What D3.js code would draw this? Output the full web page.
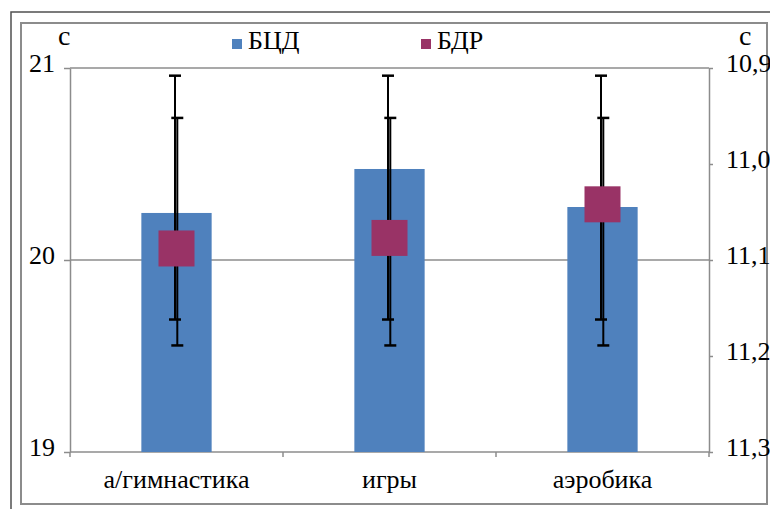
<!DOCTYPE html>
<html>
<head>
<meta charset="utf-8">
<script src="https://cdn.jsdelivr.net/npm/d3@7"></script>
<style>
  body { margin: 0; background: #fff; }
</style>
</head>
<body>
<div class="chart"></div>
<script>
// chart values
const categories = ["а/гимнастика", "игры", "аэробика"];
const seriesNames = ["БЦД", "БДР"];
const bcdValues = [20.245, 20.474, 20.276];   // left axis, bars
const bdrValues = [11.088, 11.077, 11.042];   // right axis, squares
const bcdErrLow = [19.69, 19.69, 19.69];
const bcdErrHigh = [20.96, 20.96, 20.96];
const bdrErrLow = [10.952, 10.952, 10.952];   // right axis is reversed
const bdrErrHigh = [11.189, 11.189, 11.189];
const leftTicks = [19, 20, 21];
const rightTicks = [10.9, 11.0, 11.1, 11.2, 11.3];

(function() {

  let svgContainer = "";
  const FONT = "Liberation Serif, DejaVu Serif, serif";

  window.onload = function() {
    svgContainer = d3.select('.chart').append('svg')
      .attr('width', 770)
      .attr('height', 509);

    // frames
    svgContainer.append('rect')
      .attr('x', 11).attr('y', 12)
      .attr('width', 770).attr('height', 520)
      .attr('fill', 'none')
      .attr('stroke', '#505050')
      .attr('stroke-width', 1.5);
    svgContainer.append('rect')
      .attr('x', 21).attr('y', 23)
      .attr('width', 746).attr('height', 481)
      .attr('fill', 'none')
      .attr('stroke', '#8c8c8c')
      .attr('stroke-width', 2);

    makeChart();

    svgContainer.selectAll('text')
      .attr('font-family', FONT)
      .style('font-family', FONT)
      .style('fill', '#000');
  }

  function makeChart() {
    let left = 70, right = 709, top = 68, bottom = 452;

    let xScale = d3.scaleBand()
      .domain(categories)
      .range([left, right])
      .paddingInner(0.67)
      .paddingOuter(0.335);

    let yLeft = d3.scaleLinear().domain([19, 21]).range([bottom, top]);
    let yRight = d3.scaleLinear().domain([10.9, 11.3]).range([top, bottom]);

    // gridlines
    svgContainer.selectAll('.grid')
      .data(leftTicks.filter((d) => d > 19))
      .enter()
      .append('line')
        .attr('x1', left)
        .attr('x2', right)
        .attr('y1', (d) => yLeft(d))
        .attr('y2', (d) => yLeft(d))
        .attr('stroke', '#8c8c8c')
        .attr('stroke-width', 1.5);

    // left axis
    let yAxisLeft = d3.axisLeft(yLeft)
      .tickValues(leftTicks)
      .tickFormat(d3.format('d'))
      .tickSize(6)
      .tickSizeOuter(0)
      .tickPadding(9);
    let gl = svgContainer.append('g')
      .attr('transform', 'translate(' + left + ',0)')
      .call(yAxisLeft);
    styleAxis(gl);

    // right axis
    let yAxisRight = d3.axisRight(yRight)
      .tickValues(rightTicks)
      .tickFormat((d) => d.toFixed(1).replace('.', ','))
      .tickSize(4)
      .tickSizeOuter(0)
      .tickPadding(13);
    let gr = svgContainer.append('g')
      .attr('transform', 'translate(' + right + ',0)')
      .call(yAxisRight);
    styleAxis(gr);

    // bottom axis line, ticks at category boundaries, labels
    svgContainer.append('line')
      .attr('x1', left).attr('x2', right)
      .attr('y1', bottom).attr('y2', bottom)
      .attr('stroke', '#8c8c8c')
      .attr('stroke-width', 1.5);
    let step = xScale.step();
    let bounds = d3.range(categories.length + 1).map((i) => left + i * step);
    svgContainer.selectAll('.xtick')
      .data(bounds)
      .enter()
      .append('line')
        .attr('x1', (d) => d).attr('x2', (d) => d)
        .attr('y1', bottom).attr('y2', bottom + 5)
        .attr('stroke', '#8c8c8c')
        .attr('stroke-width', 1.5);
    svgContainer.selectAll('.xlabel')
      .data(categories)
      .enter()
      .append('text')
        .attr('x', (d) => xScale(d) + xScale.bandwidth() / 2)
        .attr('y', 488)
        .attr('text-anchor', 'middle')
        .style('font-size', '26px')
        .text((d) => d);

    // bars
    svgContainer.selectAll('.bar')
      .data(bcdValues)
      .enter()
      .append('rect')
        .attr('x', (d, i) => xScale(categories[i]))
        .attr('y', (d) => yLeft(d))
        .attr('width', xScale.bandwidth())
        .attr('height', (d) => bottom - yLeft(d))
        .attr('fill', '#4f81bd');

    // error bars
    drawErrors(bcdErrLow, bcdErrHigh, yLeft, xScale, -1.5);
    drawErrors(bdrErrLow, bdrErrHigh, yRight, xScale, 0.8);

    // squares
    let sq = 36;
    svgContainer.selectAll('.marker')
      .data(bdrValues)
      .enter()
      .append('rect')
        .attr('x', (d, i) => xScale(categories[i]) + xScale.bandwidth() / 2 - sq / 2)
        .attr('y', (d) => yRight(d) - sq / 2)
        .attr('width', sq)
        .attr('height', sq)
        .attr('fill', '#993366');

    // unit labels
    svgContainer.append('text')
      .attr('x', 58).attr('y', 45)
      .style('font-size', '28px')
      .text('с');
    svgContainer.append('text')
      .attr('x', 739).attr('y', 45)
      .style('font-size', '28px')
      .text('с');

    // legend
    let legendX = [232, 421];
    let legendColors = ['#4f81bd', '#993366'];
    seriesNames.forEach(function(name, i) {
      svgContainer.append('rect')
        .attr('x', legendX[i]).attr('y', 39)
        .attr('width', 10).attr('height', 10)
        .attr('fill', legendColors[i]);
      svgContainer.append('text')
        .attr('x', legendX[i] + 16).attr('y', 49)
        .style('font-size', '26px')
        .text(name);
    });
  }

  function drawErrors(lows, highs, yScale, xScale, offset) {
    let g = svgContainer.append('g');
    let cx = (i) => xScale(categories[i]) + xScale.bandwidth() / 2 + offset;
    g.selectAll('.err')
      .data(lows)
      .enter()
      .append('line')
        .attr('x1', (d, i) => cx(i)).attr('x2', (d, i) => cx(i))
        .attr('y1', (d) => yScale(d))
        .attr('y2', (d, i) => yScale(highs[i]))
        .attr('stroke', '#000')
        .attr('stroke-width', 2);
    let caps = lows.concat(highs);
    g.selectAll('.cap')
      .data(caps)
      .enter()
      .append('line')
        .attr('x1', (d, i) => cx(i % lows.length) - 6)
        .attr('x2', (d, i) => cx(i % lows.length) + 6)
        .attr('y1', (d) => yScale(d))
        .attr('y2', (d) => yScale(d))
        .attr('stroke', '#000')
        .attr('stroke-width', 2.5);
  }

  function styleAxis(g) {
    g.attr('font-family', null).attr('font-size', null);
    g.select('.domain')
      .attr('stroke', '#8c8c8c')
      .attr('stroke-width', 1.5);
    g.selectAll('.tick line')
      .attr('stroke', '#8c8c8c')
      .attr('stroke-width', 1.5);
    g.selectAll('.tick text')
      .attr('dy', '0.12em')
      .style('font-size', '26px');
  }

})();
</script>
</body>
</html>
